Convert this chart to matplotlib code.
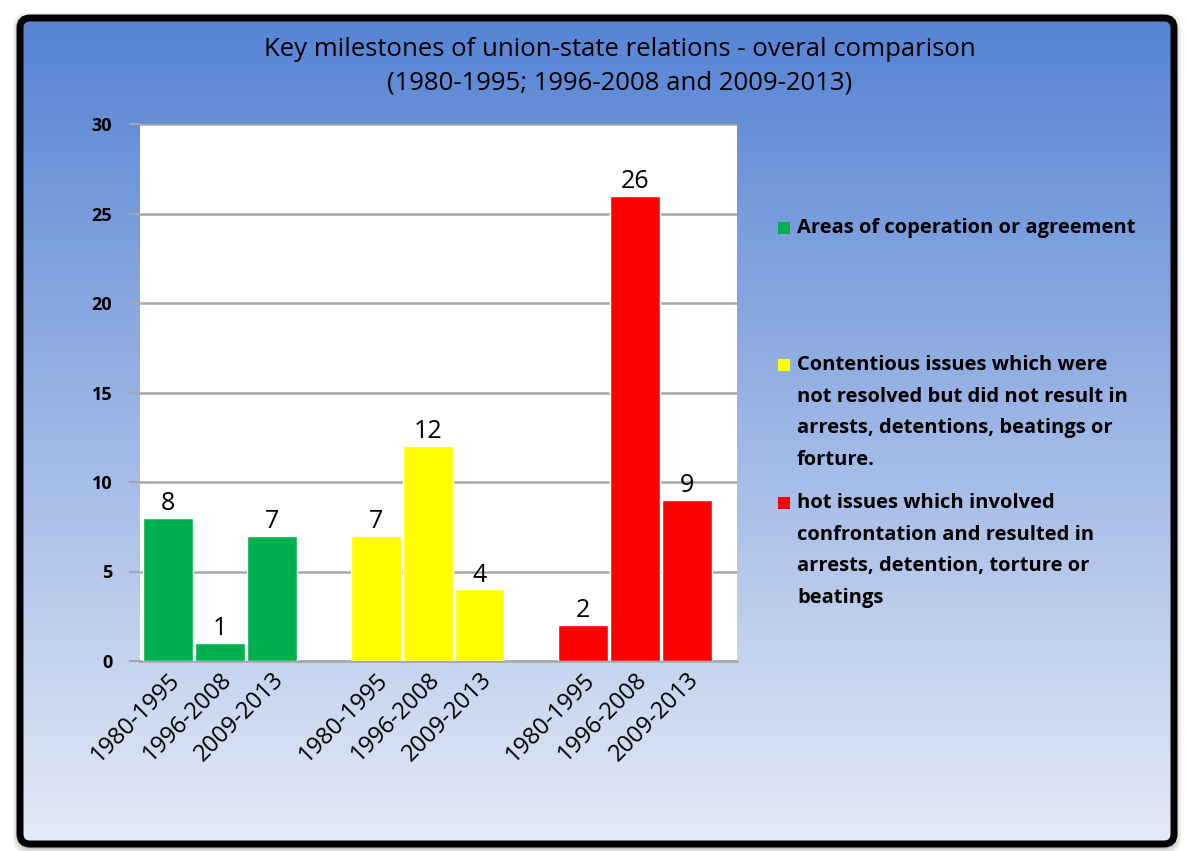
import numpy as np
import matplotlib.pyplot as plt
import matplotlib.transforms as mtransforms
from matplotlib.patches import FancyBboxPatch, Rectangle

periods = ["1980-1995", "1996-2008", "2009-2013"]
cooperation = [8, 1, 7]
contentious = [7, 12, 4]
hot_issues = [2, 26, 9]

series_names = [
    "Areas of coperation or agreement",
    "Contentious issues which were\nnot resolved but did not result in\narrests, detentions, beatings or\nforture.",
    "hot issues which involved\nconfrontation and resulted in\narrests, detention, torture or\nbeatings",
]
series_colors = ["#00b050", "#ffff00", "#ff0000"]
yticks = [0, 5, 10, 15, 20, 25, 30]

W, H = 1187, 851
fig = plt.figure(figsize=(W / 100, H / 100), dpi=100)
fig.patch.set_facecolor("white")

# background panel with vertical gradient and black rounded frame
bg = fig.add_axes([0, 0, 1, 1])
grad = np.linspace(0, 1, 256).reshape(-1, 1)
top = np.array([0x56, 0x83, 0xd4]) / 255
bot = np.array([0xe4, 0xea, 0xf6]) / 255
img = top + (bot - top) * grad[..., None]
im = bg.imshow(img, extent=(20, 1174, 844, 18), aspect="auto", zorder=1)
bg.set_xlim(0, W)
bg.set_ylim(H, 0)
bg.axis("off")
for pad, alpha in [(7, 0.12), (5, 0.18), (3, 0.25)]:
    bg.add_patch(FancyBboxPatch((20 - pad, 18 - pad + 2), 1154 + 2 * pad, 826 + 2 * pad,
                                boxstyle="round,pad=0,rounding_size=14",
                                facecolor="#808080", edgecolor="none", alpha=alpha, zorder=0))
frame = FancyBboxPatch((20, 18), 1154, 826, boxstyle="round,pad=0,rounding_size=10",
                       facecolor="none", edgecolor="black", linewidth=5, zorder=3)
bg.add_patch(frame)
im.set_clip_path(frame)

fig.text(620 / W, 1 - 49 / H, "Key milestones of union-state relations - overal comparison",
         ha="center", va="center", fontsize=18.5, family="Open Sans")
fig.text(620 / W, 1 - 83 / H, "(1980-1995; 1996-2008 and 2009-2013)",
         ha="center", va="center", fontsize=18.5, family="Open Sans")

ax = fig.add_axes([140 / W, 1 - 661 / H, 597 / W, 537 / H])
ax.set_facecolor("white")

groups = [cooperation, contentious, hot_issues]
positions = []
labels = []
for g, (vals, color) in enumerate(zip(groups, series_colors)):
    xs = np.arange(len(vals)) + 4 * g
    ax.bar(xs, vals, width=0.96, color=color, edgecolor="white", linewidth=1, zorder=3)
    for x, v in zip(xs, vals):
        ax.text(x, v + 0.1, str(v), ha="center", va="bottom", fontsize=18,
                family="Open Sans", zorder=4)
    positions.extend(xs)
    labels.extend(periods)

ax.set_xlim(-0.54, 10.96)
ax.set_ylim(0, 30)
ax.set_yticks(yticks)
ax.set_yticklabels([str(t) for t in yticks], fontsize=13, fontweight="bold", family="Open Sans")
ax.yaxis.grid(True, color="#a6a6a6", linewidth=1.8, zorder=0)
ax.set_xticks(positions)
ax.set_xticklabels(labels, rotation=45, ha="right", rotation_mode="anchor",
                   fontsize=17, family="Open Sans")
shift = mtransforms.ScaledTranslation(-12 / 100, 0, fig.dpi_scale_trans)
for lbl in ax.get_xticklabels():
    lbl.set_transform(lbl.get_transform() + shift)
ax.tick_params(axis="x", length=0, pad=5)
ax.tick_params(axis="y", length=8, color="#a6a6a6", width=1.5, pad=12)
for side in ["top", "right", "left"]:
    ax.spines[side].set_visible(False)
ax.spines["bottom"].set_color("#a6a6a6")
ax.spines["bottom"].set_linewidth(1.8)

# legend entries placed by hand
entry_y = [228, 365, 503]
for y, name, color in zip(entry_y, series_names, series_colors):
    bg.add_patch(Rectangle((778, y - 6), 12, 12, facecolor=color, edgecolor="none", zorder=4))
    bg.text(797, y - 10, name, ha="left", va="top", fontsize=14.5, fontweight="bold",
            family="Open Sans", linespacing=1.78, zorder=4)

fig.savefig("out.png", dpi=100)
